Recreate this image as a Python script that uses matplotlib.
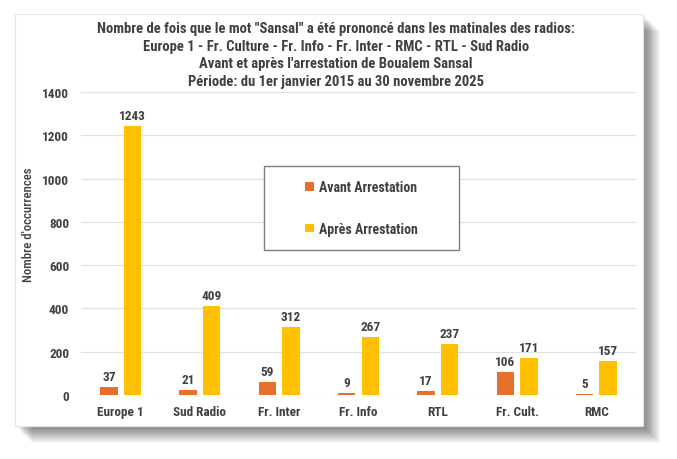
import matplotlib.pyplot as plt
import numpy as np
from matplotlib.patches import Rectangle

plt.rcParams['font.family'] = ['Roboto Condensed', 'Liberation Sans', 'DejaVu Sans']

# ── données ──
radios = ['Europe 1', 'Sud Radio', 'Fr. Inter', 'Fr. Info', 'RTL', 'Fr. Cult.', 'RMC']
avant = [37, 21, 59, 9, 17, 106, 5]
apres = [1243, 409, 312, 267, 237, 171, 157]

TITLE = ('Nombre de fois que le mot "Sansal" a été prononcé dans les matinales des radios:\n'
         'Europe 1 - Fr. Culture - Fr. Info - Fr. Inter - RMC - RTL - Sud Radio\n'
         "Avant et après l'arrestation de Boualem Sansal\n"
         'Période: du 1er janvier 2015 au 30 novembre 2025')

C_AVANT = '#E8702A'
C_APRES = '#FFC000'
C_TXT = '#404040'

W, H = 677, 460
fig = plt.figure(figsize=(W / 100, H / 100), dpi=100)
fig.patch.set_facecolor('white')

# ── cadre + ombre ──
bx, by, bw, bh = 15 / W, 1 - 427 / H, 628 / W, 412 / H
for i in range(16):
    o = 3 + i * 0.9
    fig.patches.append(Rectangle((bx + o / W, by - o / H), bw, bh,
                                 transform=fig.transFigure, facecolor='#000000',
                                 alpha=0.03, edgecolor='none', zorder=0))
fig.patches.append(Rectangle((bx, by), bw, bh, transform=fig.transFigure,
                             facecolor='white', edgecolor='#E6E6E6', linewidth=0.8, zorder=1))

ax = fig.add_axes([81 / W, 1 - 396 / H, 555 / W, 303 / H])
ax.set_facecolor('none')
ax.set_zorder(2)

x = np.arange(len(radios))
bw_ = 0.22
off = 0.148
b1 = ax.bar(x - off, avant, bw_, color=C_AVANT, label='Avant Arrestation', zorder=3)
b2 = ax.bar(x + off, apres, bw_, color=C_APRES, label='Après Arrestation', zorder=3)
for bars in (b1, b2):
    ax.bar_label(bars, padding=3, fontsize=9.5, fontweight='bold', color=C_TXT)

ax.set_xlim(-0.5, len(radios) - 0.5)
ax.set_ylim(0, 1400)
ax.set_yticks(range(0, 1401, 200))
ax.set_xticks(x)
ax.set_xticklabels(radios)
ax.grid(axis='y', color='#E0E0E0', linewidth=0.9, zorder=0)
ax.set_axisbelow(True)
for s in ax.spines.values():
    s.set_visible(False)
ax.tick_params(length=0, labelsize=9.5, colors=C_TXT, pad=7)
ax.tick_params(axis='y', pad=8.5)
for lab in ax.get_xticklabels() + ax.get_yticklabels():
    lab.set_fontweight('bold')
fig.text(29 / W, 1 - 225 / H, "Nombre d'occurrences", rotation=90, ha='center', va='center',
         fontsize=9.2, fontweight='medium', color=C_TXT)

fig.text(336 / W, 1 - 22 / H, TITLE, ha='center', va='top', fontsize=10.5,
         fontweight='bold', color=C_TXT, linespacing=1.32)

# cadre de légende
ax.add_patch(Rectangle((264 / W, 1 - 251 / H), 195 / W, 84 / H, transform=fig.transFigure,
                       facecolor='white', edgecolor='#7F7F7F', linewidth=1.0,
                       zorder=4, clip_on=False))
leg = ax.legend(loc='center', bbox_to_anchor=(264 / W, 1 - 251 / H, 195 / W, 84 / H),
                bbox_transform=fig.transFigure, frameon=False,
                fontsize=10, handlelength=0.6, handleheight=0.6,
                handletextpad=0.4, labelspacing=2.0, borderaxespad=0)
leg.set_zorder(5)
for t in leg.get_texts():
    t.set_color(C_TXT)
    t.set_fontweight('bold')

fig.savefig('out.png', dpi=100, facecolor='white')
